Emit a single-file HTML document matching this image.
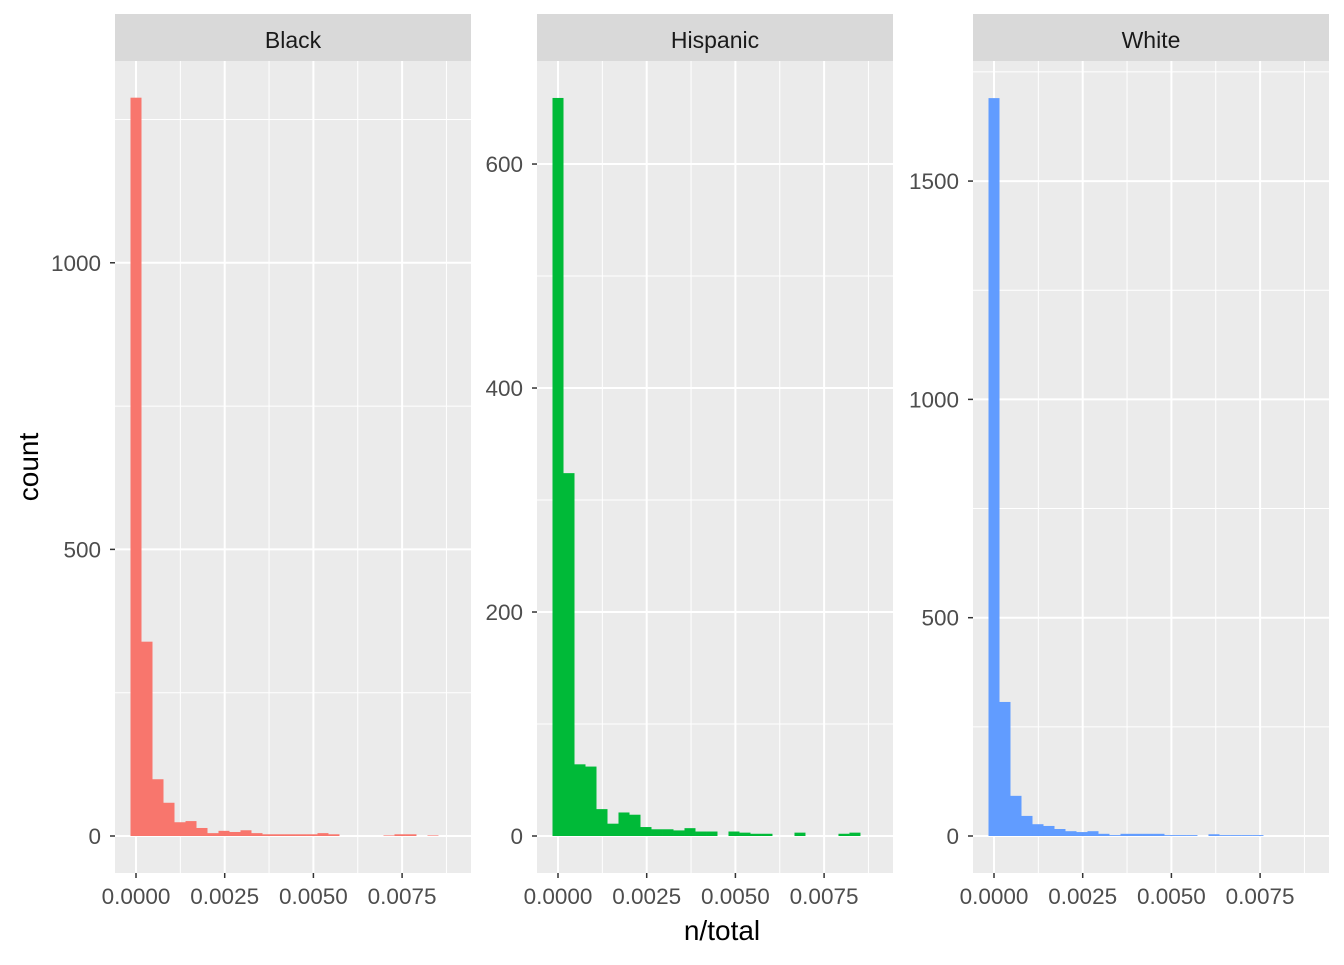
<!DOCTYPE html>
<html><head><meta charset="utf-8"><style>
body{margin:0;background:#fff;font-family:"Liberation Sans",sans-serif;}
svg text{font-family:"Liberation Sans",sans-serif;}
</style></head><body>
<svg id="chart" width="1344" height="960" xmlns="http://www.w3.org/2000/svg"></svg>
<script>
const panelNames = ["Black","Hispanic","White"];
const panelColors = ["#F8766D","#00BA38","#619CFF"];
const binWidth = 0.00031;
const firstBinCenter = 0;
const blackCounts = [1288,339,99,58,24,26,14,5,9,7,10,5,3,3,3,3,3,5,3,0,0,0,0,1,3,3,0,1,0,0];
const hispanicCounts = [659,324,64,62,24,11,21,19,8,6,6,5,7,4,4,0,4,3,2,2,0,0,3,0,0,0,2,3,0,0];
const whiteCounts = [1690,307,92,46,27,23,16,11,9,11,5,2,5,5,5,5,2,2,2,0,4,2,2,2,2,0,0,0,0,0];
const xTicks = [0,0.0025,0.005,0.0075];
const xTickLabels = ["0.0000","0.0025","0.0050","0.0075"];
const yTicksBlack = [0,500,1000];
const yTicksHisp = [0,200,400,600];
const yTicksWhite = [0,500,1000,1500];
const yTopBlack = 1352;
const yTopHisp = 692;
const yTopWhite = 1775;

const svg = document.getElementById('chart');
const NS = "http://www.w3.org/2000/svg";
function mk(tag, attrs, parent){const e=document.createElementNS(NS,tag);for(const k in attrs)e.setAttribute(k,attrs[k]);(parent||svg).appendChild(e);return e;}

const panels = [
 {left:115, counts:blackCounts, ticks:yTicksBlack, ytop:yTopBlack},
 {left:537, counts:hispanicCounts, ticks:yTicksHisp, ytop:yTopHisp},
 {left:973, counts:whiteCounts, ticks:yTicksWhite, ytop:yTopWhite}
];
const pw = 356, topY = 61, bottomY = 873, y0px = 836;
const xmin = -0.000592, xmax = 0.009442;

panels.forEach((p, i) => {
  const xs = v => p.left + (v - xmin) / (xmax - xmin) * pw;
  const yS = v => y0px - v / p.ytop * (y0px - topY);
  const g = mk('g', {});
  
  
  const bg = mk('rect', {x:p.left, y:topY, width:pw, height:bottomY-topY, fill:'#EBEBEB'}, g);
  
  
  for (let k = 0; k < xTicks.length; k++) {
    const mv = xTicks[k] + 0.00125;
    if (mv < xmax) mk('line', {x1:xs(mv), x2:xs(mv), y1:topY, y2:bottomY, stroke:'#fff', 'stroke-width':1}, g);
  }
  const step = p.ticks[1] - p.ticks[0];
  for (let v = step/2; yS(v) > topY; v += step) mk('line', {x1:p.left, x2:p.left+pw, y1:yS(v), y2:yS(v), stroke:'#fff', 'stroke-width':1}, g);
  xTicks.forEach(v => mk('line', {x1:xs(v), x2:xs(v), y1:topY, y2:bottomY, stroke:'#fff', 'stroke-width':2}, g));
  p.ticks.forEach(v => mk('line', {x1:p.left, x2:p.left+pw, y1:yS(v), y2:yS(v), stroke:'#fff', 'stroke-width':2}, g));
  p.counts.forEach((c, b) => {
    if (c <= 0) return;
    const x0 = firstBinCenter + (b - 0.5) * binWidth;
    const r = mk('rect', {x:xs(x0), y:yS(c), width:xs(x0+binWidth)-xs(x0), height:y0px-yS(c), fill:panelColors[i]}, g);
    
    
  });
  const st = mk('rect', {x:p.left, y:14, width:pw, height:47, fill:'#D9D9D9'}, g);
  
  
  const stt = mk('text', {x:p.left+pw/2, y:48, 'text-anchor':'middle', 'font-size':23, fill:'#1A1A1A'}, g);
  stt.textContent = panelNames[i];
  
  
  xTicks.forEach((v, k) => {
    mk('line', {x1:xs(v), x2:xs(v), y1:bottomY, y2:bottomY+5, stroke:'#333', 'stroke-width':1.5}, g);
    const t = mk('text', {x:xs(v), y:904, 'text-anchor':'middle', 'font-size':22.5, fill:'#4D4D4D'}, g);
    t.textContent = xTickLabels[k];
    
    
  });
  p.ticks.forEach(v => {
    mk('line', {x1:p.left-5, x2:p.left, y1:yS(v), y2:yS(v), stroke:'#333', 'stroke-width':1.5}, g);
    const t = mk('text', {x:p.left-14, y:yS(v)+8, 'text-anchor':'end', 'font-size':22.5, fill:'#4D4D4D'}, g);
    t.textContent = String(v);
    
    
  });
});
const xt = mk('text', {x:722, y:940, 'text-anchor':'middle', 'font-size':28, fill:'#000'});
xt.textContent = 'n/total';


const yt = mk('text', {x:0, y:0, 'text-anchor':'middle', 'font-size':28, fill:'#000', transform:'translate(38,467) rotate(-90)'});
yt.textContent = 'count';


</script>
</body></html>
